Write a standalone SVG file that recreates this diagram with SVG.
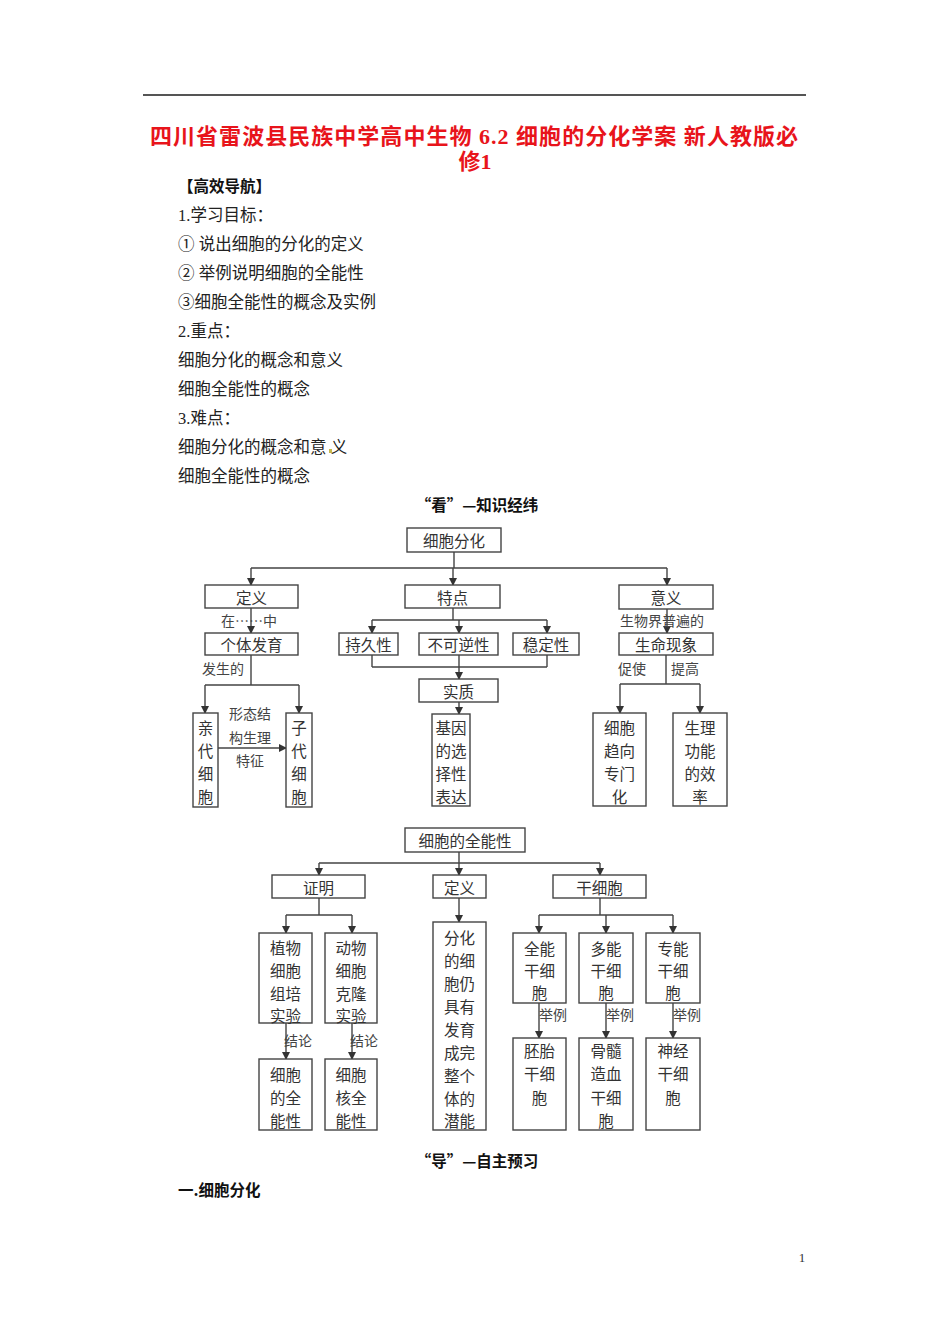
<svg xmlns="http://www.w3.org/2000/svg" width="950" height="1344" viewBox="0 0 950 1344">
<defs>
<style>
.pg{font-family:"Liberation Serif","Noto Sans CJK SC",serif;font-size:16.5px;fill:#222}
.title{font-family:"Liberation Serif","Noto Sans CJK SC",serif;font-size:22px;font-weight:bold;fill:#e8141b}
.hd{font-family:"Noto Sans CJK SC",sans-serif;font-size:15.5px;font-weight:bold;fill:#111}
.bx{fill:#fff;stroke:#444;stroke-width:1.4}
.t{font-family:"Noto Sans CJK SC",sans-serif;font-size:15.5px;fill:#333;text-anchor:middle;dominant-baseline:central}
.lb{font-family:"Noto Sans CJK SC",sans-serif;font-size:14px;fill:#444;dominant-baseline:central}
.ln{fill:none;stroke:#444;stroke-width:1.4}
.ar{fill:none;stroke:#444;stroke-width:1.4;marker-end:url(#ah)}
</style>
<marker id="ah" markerWidth="8" markerHeight="8" refX="7" refY="4" orient="auto" markerUnits="userSpaceOnUse">
<path d="M0,0 L8,4 L0,8 z" fill="#333"/>
</marker>
</defs>
<rect width="950" height="1344" fill="#fff"/>

<g id="page">
<line x1="143" y1="95" x2="806" y2="95" stroke="#555" stroke-width="2"/>
<text class="title" x="150" y="144" textLength="648" lengthAdjust="spacing">四川省雷波县民族中学高中生物 6.2 细胞的分化学案 新人教版必</text>
<text class="title" x="475" y="169" text-anchor="middle">修1</text>
<text class="hd" x="178" y="192">【高效导航】</text>
<text class="pg" x="178" y="221">1.学习目标：</text>
<text class="pg" x="178" y="250">① 说出细胞的分化的定义</text>
<text class="pg" x="178" y="279">② 举例说明细胞的全能性</text>
<text class="pg" x="178" y="308">③细胞全能性的概念及实例</text>
<text class="pg" x="178" y="337">2.重点：</text>
<text class="pg" x="178" y="366">细胞分化的概念和意义</text>
<text class="pg" x="178" y="395">细胞全能性的概念</text>
<text class="pg" x="178" y="424">3.难点：</text>
<text class="pg" x="178" y="453">细胞分化的概念和意 义</text>
<rect x="329" y="449" width="3" height="4" fill="#c8b84a"/>
<text class="pg" x="178" y="482">细胞全能性的概念</text>
<text class="hd" x="477" y="511" text-anchor="middle">“看”—知识经纬</text>
<text class="hd" x="477" y="1167" text-anchor="middle">“导”—自主预习</text>
<text class="hd" x="178" y="1196">一.细胞分化</text>
<text x="802" y="1262" font-family="Liberation Serif,serif" font-size="13" fill="#333" text-anchor="middle">1</text>
</g>

<g id="connectors">
<path class="ln" d="M454,552 V568 M251,568 H667"/>
<path class="ar" d="M251,568 V585"/>
<path class="ar" d="M453,568 V585"/>
<path class="ar" d="M667,568 V585"/>
<path class="ar" d="M251,608 V633"/>
<path class="ln" d="M251,655 V685 M205,685 H299"/>
<path class="ar" d="M205,685 V713"/>
<path class="ar" d="M299,685 V713"/>
<path class="ar" d="M218,748 H286"/>
<path class="ln" d="M453,608 V620 M372,620 H547"/>
<path class="ar" d="M372,620 V633"/>
<path class="ar" d="M459,620 V633"/>
<path class="ar" d="M547,620 V633"/>
<path class="ln" d="M372,655 V667 M547,655 V667 M372,667 H547"/>
<path class="ar" d="M459,655 V679"/>
<path class="ar" d="M459,702 V714"/>
<path class="ar" d="M667,609 V633"/>
<path class="ln" d="M666,655 V684 M620,684 H700"/>
<path class="ar" d="M620,684 V713"/>
<path class="ar" d="M700,684 V713"/>
<path class="ln" d="M459,852 V863 M319,863 H600"/>
<path class="ar" d="M459,863 V875"/>
<path class="ar" d="M319,863 V875"/>
<path class="ar" d="M600,863 V875"/>
<path class="ln" d="M319,898 V915 M286,915 H352"/>
<path class="ar" d="M286,915 V933"/>
<path class="ar" d="M352,915 V933"/>
<path class="ar" d="M286,1023 V1059"/>
<path class="ar" d="M352,1023 V1059"/>
<path class="ar" d="M459,898 V922"/>
<path class="ln" d="M600,898 V915 M539,915 H673"/>
<path class="ar" d="M539,915 V933"/>
<path class="ar" d="M606,915 V933"/>
<path class="ar" d="M673,915 V933"/>
<path class="ar" d="M539,1003 V1038"/>
<path class="ar" d="M606,1003 V1038"/>
<path class="ar" d="M673,1003 V1038"/>
<text class="lb" x="221" y="620">在……中</text>
<text class="lb" x="202" y="668">发生的</text>
<text class="lb" x="250" y="713" text-anchor="middle">形态结</text>
<text class="lb" x="250" y="737" text-anchor="middle">构生理</text>
<text class="lb" x="250" y="760" text-anchor="middle">特征</text>
<text class="lb" x="620" y="620">生物界普遍的</text>
<text class="lb" x="618" y="668">促使</text>
<text class="lb" x="671" y="668">提高</text>
<text class="lb" x="284" y="1040">结论</text>
<text class="lb" x="350" y="1040">结论</text>
<text class="lb" x="539" y="1014">举例</text>
<text class="lb" x="606" y="1014">举例</text>
<text class="lb" x="673" y="1014">举例</text>
</g>

<g id="n-fenhua"><rect class="bx" x="407" y="528" width="94" height="24"/><text class="t" x="454" y="540">细胞分化</text></g>
<g id="n-dingyi1"><rect class="bx" x="205" y="585" width="93" height="23"/><text class="t" x="251.5" y="597">定义</text></g>
<g id="n-tedian"><rect class="bx" x="405" y="585" width="95" height="23"/><text class="t" x="452.5" y="597">特点</text></g>
<g id="n-yiyi"><rect class="bx" x="619" y="585" width="94" height="24"/><text class="t" x="666" y="597">意义</text></g>
<g id="n-geti"><rect class="bx" x="205" y="633" width="93" height="22"/><text class="t" x="251.5" y="644">个体发育</text></g>
<g id="n-chijiu"><rect class="bx" x="339" y="633" width="59" height="22"/><text class="t" x="368.5" y="644">持久性</text></g>
<g id="n-buke"><rect class="bx" x="419" y="633" width="79" height="22"/><text class="t" x="458.5" y="644">不可逆性</text></g>
<g id="n-wending"><rect class="bx" x="513" y="633" width="66" height="22"/><text class="t" x="546" y="644">稳定性</text></g>
<g id="n-shengming"><rect class="bx" x="619" y="633" width="94" height="22"/><text class="t" x="666" y="644">生命现象</text></g>
<g id="n-shizhi"><rect class="bx" x="419" y="679" width="79" height="23"/><text class="t" x="458.5" y="691">实质</text></g>
<g id="n-qindai"><rect class="bx" x="193" y="713" width="25" height="94"/><text class="t" x="205.5" y="727">亲</text><text class="t" x="205.5" y="750">代</text><text class="t" x="205.5" y="773">细</text><text class="t" x="205.5" y="796">胞</text></g>
<g id="n-zidai"><rect class="bx" x="286" y="713" width="26" height="94"/><text class="t" x="299" y="727">子</text><text class="t" x="299" y="750">代</text><text class="t" x="299" y="773">细</text><text class="t" x="299" y="796">胞</text></g>
<g id="n-jiyin"><rect class="bx" x="432" y="714" width="38" height="92"/><text class="t" x="451" y="727">基因</text><text class="t" x="451" y="750">的选</text><text class="t" x="451" y="773">择性</text><text class="t" x="451" y="796">表达</text></g>
<g id="n-quxiang"><rect class="bx" x="593" y="713" width="53" height="93"/><text class="t" x="619.5" y="727">细胞</text><text class="t" x="619.5" y="750">趋向</text><text class="t" x="619.5" y="773">专门</text><text class="t" x="619.5" y="796">化</text></g>
<g id="n-xiaolv"><rect class="bx" x="673" y="713" width="54" height="93"/><text class="t" x="700" y="727">生理</text><text class="t" x="700" y="750">功能</text><text class="t" x="700" y="773">的效</text><text class="t" x="700" y="796">率</text></g>

<g id="n-quanneng"><rect class="bx" x="405" y="828" width="120" height="24"/><text class="t" x="465" y="840">细胞的全能性</text></g>
<g id="n-zhengming"><rect class="bx" x="272" y="875" width="93" height="23"/><text class="t" x="318.5" y="887">证明</text></g>
<g id="n-dingyi2"><rect class="bx" x="433" y="875" width="53" height="23"/><text class="t" x="459.5" y="887">定义</text></g>
<g id="n-ganxibao"><rect class="bx" x="553" y="875" width="93" height="23"/><text class="t" x="599.5" y="887">干细胞</text></g>
<g id="n-zhiwu"><rect class="bx" x="259" y="933" width="53" height="90"/><text class="t" x="285.5" y="947">植物</text><text class="t" x="285.5" y="970">细胞</text><text class="t" x="285.5" y="993">组培</text><text class="t" x="285.5" y="1015">实验</text></g>
<g id="n-dongwu"><rect class="bx" x="325" y="933" width="52" height="90"/><text class="t" x="351" y="947">动物</text><text class="t" x="351" y="970">细胞</text><text class="t" x="351" y="993">克隆</text><text class="t" x="351" y="1015">实验</text></g>
<g id="n-jielun1"><rect class="bx" x="259" y="1059" width="53" height="71"/><text class="t" x="285.5" y="1074">细胞</text><text class="t" x="285.5" y="1097">的全</text><text class="t" x="285.5" y="1120">能性</text></g>
<g id="n-jielun2"><rect class="bx" x="325" y="1059" width="52" height="71"/><text class="t" x="351" y="1074">细胞</text><text class="t" x="351" y="1097">核全</text><text class="t" x="351" y="1120">能性</text></g>
<g id="n-def2"><rect class="bx" x="433" y="922" width="53" height="208"/><text class="t" x="459.5" y="937">分化</text><text class="t" x="459.5" y="960">的细</text><text class="t" x="459.5" y="983">胞仍</text><text class="t" x="459.5" y="1006">具有</text><text class="t" x="459.5" y="1029">发育</text><text class="t" x="459.5" y="1052">成完</text><text class="t" x="459.5" y="1075">整个</text><text class="t" x="459.5" y="1098">体的</text><text class="t" x="459.5" y="1120">潜能</text></g>
<g id="n-qn"><rect class="bx" x="513" y="933" width="53" height="70"/><text class="t" x="539.5" y="948">全能</text><text class="t" x="539.5" y="970">干细</text><text class="t" x="539.5" y="992">胞</text></g>
<g id="n-dn"><rect class="bx" x="579" y="933" width="54" height="70"/><text class="t" x="606" y="948">多能</text><text class="t" x="606" y="970">干细</text><text class="t" x="606" y="992">胞</text></g>
<g id="n-zn"><rect class="bx" x="646" y="933" width="54" height="70"/><text class="t" x="673" y="948">专能</text><text class="t" x="673" y="970">干细</text><text class="t" x="673" y="992">胞</text></g>
<g id="n-peitai"><rect class="bx" x="513" y="1038" width="53" height="92"/><text class="t" x="539.5" y="1050">胚胎</text><text class="t" x="539.5" y="1073">干细</text><text class="t" x="539.5" y="1097">胞</text></g>
<g id="n-gusui"><rect class="bx" x="579" y="1038" width="54" height="92"/><text class="t" x="606" y="1050">骨髓</text><text class="t" x="606" y="1073">造血</text><text class="t" x="606" y="1097">干细</text><text class="t" x="606" y="1120">胞</text></g>
<g id="n-shenjing"><rect class="bx" x="646" y="1038" width="54" height="92"/><text class="t" x="673" y="1050">神经</text><text class="t" x="673" y="1073">干细</text><text class="t" x="673" y="1097">胞</text></g>
</svg>
